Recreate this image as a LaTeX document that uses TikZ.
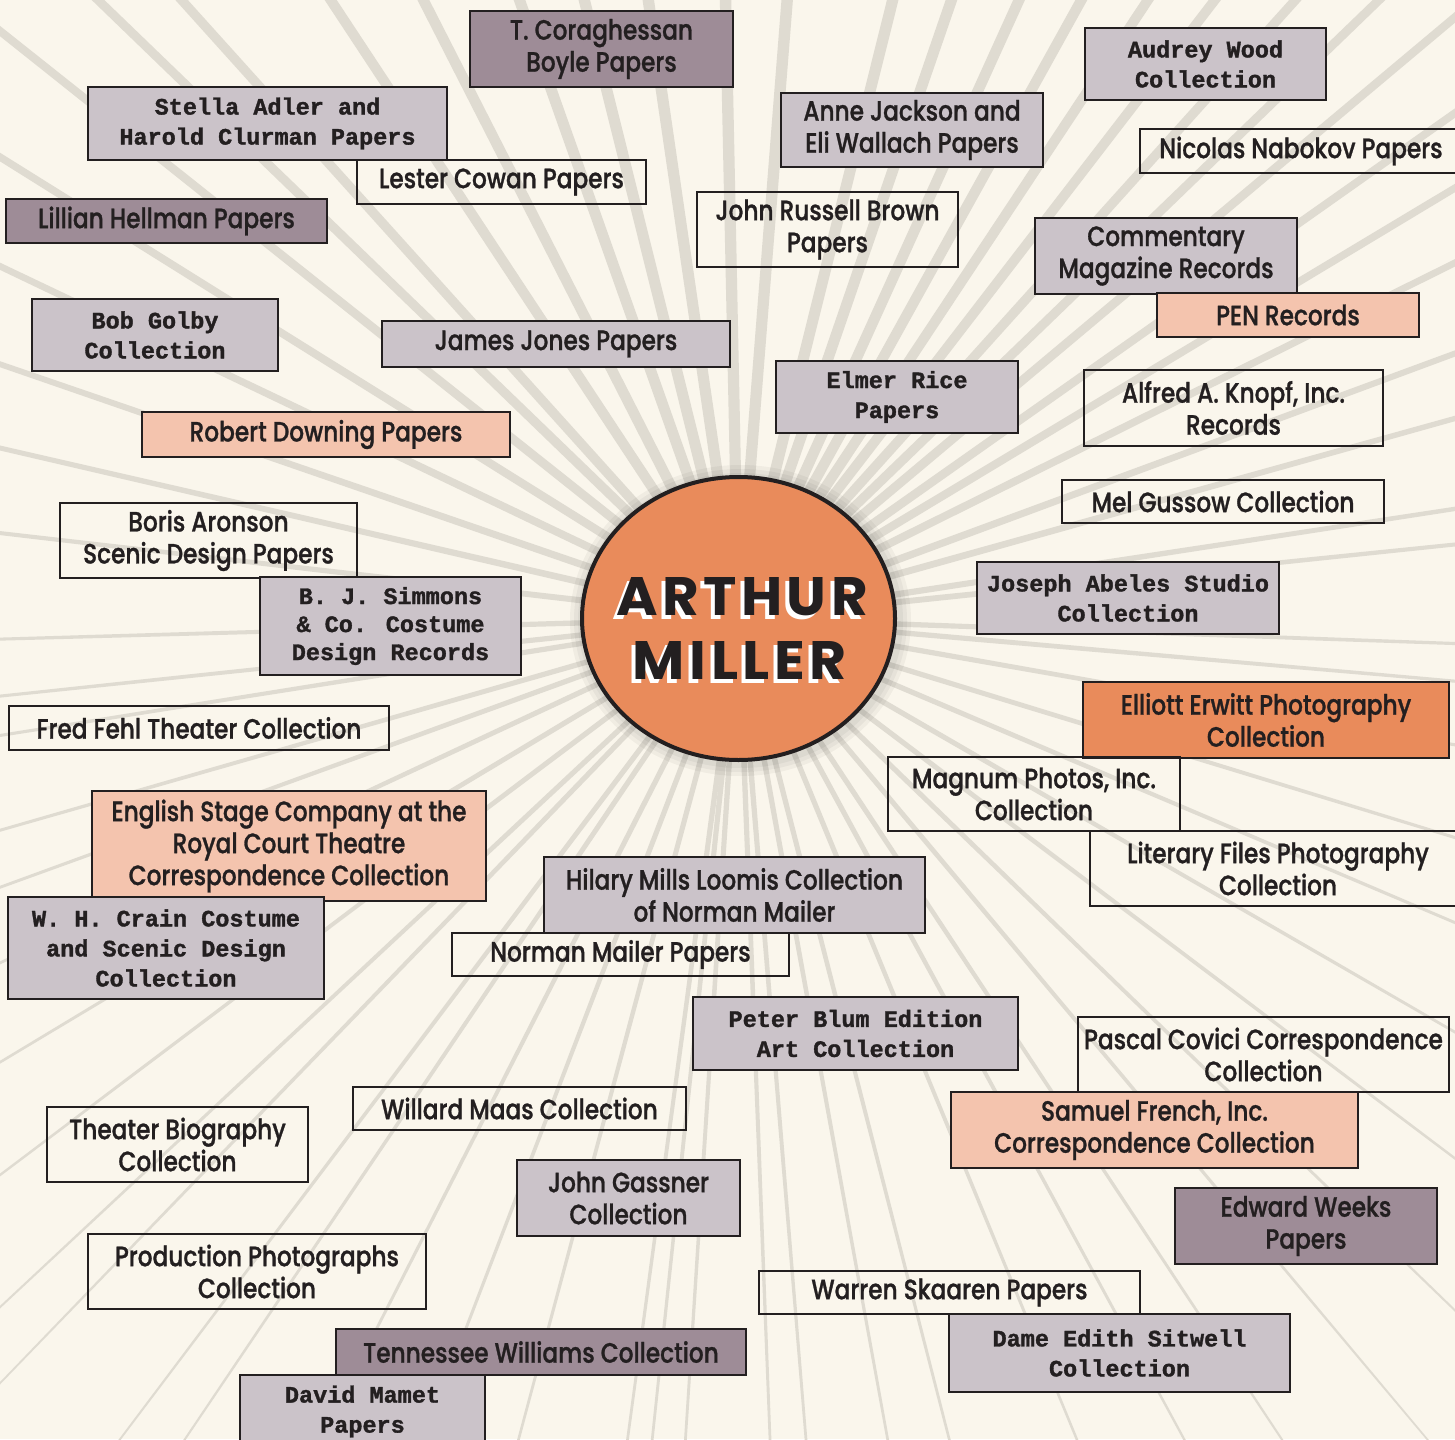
\documentclass[tikz,border=0pt]{standalone}
\usepackage{fontspec}
\usetikzlibrary{calc,shapes.geometric}
\IfFontExistsTF{Poppins Medium}{\newfontfamily\fut{Poppins Medium}[FakeStretch=0.83,FakeBold=1.0]}{\newfontfamily\fut{Poppins}[FakeStretch=0.83,FakeBold=1.8]}
\IfFontExistsTF{Poppins Bold}{\newfontfamily\arth{Poppins Bold}[LetterSpace=8]}{\newfontfamily\arth{Poppins}[LetterSpace=8,FakeBold=2]}
\newfontfamily\tw{Liberation Mono}[BoldFeatures={FakeBold=1.4}]
\definecolor{bgc}{HTML}{FAF6EC}
\definecolor{rayc}{HTML}{DFDBD1}
\definecolor{inkc}{HTML}{231F20}
\definecolor{greyc}{HTML}{CBC3C9}
\definecolor{mauvec}{HTML}{9E8C97}
\definecolor{peachc}{HTML}{F4C4AE}
\definecolor{orangec}{HTML}{E98B5B}
\tikzset{
 bx/.style={draw=inkc, line width=1.25pt, inner sep=0pt, align=center, text=inkc, font=\fut\fontsize{14}{16}\selectfont},
 wbx/.style={bx},
 gbx/.style={bx, fill=greyc},
 mbx/.style={bx, fill=mauvec},
 pbx/.style={bx, fill=peachc},
 obx/.style={bx, fill=orangec},
 twf/.style={font=\tw\bfseries\fontsize{11.75}{15}\selectfont},
 twg/.style={font=\tw\bfseries\fontsize{11.75}{14}\selectfont},
 title/.style={inner sep=0pt, text=inkc},
}
\newcommand\mkbox[7]{%
  \pgfmathsetmacro\bxw{(#5-#3)/2}%
  \pgfmathsetmacro\bxh{(#6-#4)/2}%
  \pgfmathsetmacro\bxx{(#3+#5)/2}%
  \pgfmathsetmacro\bxy{(#4+#6)/2}%
  \node[#1, minimum width=\bxw pt, minimum height=\bxh pt] (#2) at (\bxx,\bxy) {#7};}
\newcommand\shadowword[3]{%
  \rlap{\kern-2pt\raisebox{-2pt}[0pt][0pt]{\textcolor{white}{\resizebox{#1}{19pt}{\arth #3}}}}%
  \resizebox{#1}{19pt}{\arth #2}}
\begin{document}
\begin{tikzpicture}[x=0.5pt,y=-0.5pt]
\useasboundingbox (0,0) rectangle (1455,1439);
\clip (0,0) rectangle (1455,1439);
\fill[bgc] (0,0) rectangle (1455,1439);
\coordinate (C) at (738.5,618.5);
% sunburst
\foreach \a in {2,5,10,17,23,30,37,44,50,56.5,61.5,67.6,75.6,79.7,85.3,87.8,93.7,96,97.7,105,111,117,124,127,134,137,143,149,155,160,164,171,174,178.4,186.6,193,199,205.5,212,218.5,224,228,236.6,243,250.5,256,261.7,268.8,274.5,284,289,294.4,299,303.5,307.6,312,316,320,324.8,329,333.6,339.7,344.4,351.3,354.1}{
  \pgfmathsetmacro\u{max(0,-sin(\a))}
  \pgfmathsetmacro\wa{3+2.5*\u}
  \pgfmathsetmacro\wb{0.2+5.8*\u}
  \fill[rayc] ($(C)+(\a+90:\wa)$) -- ($(C)+(\a:1400)+(\a+90:\wb)$) -- ($(C)+(\a:1400)+(\a-90:\wb)$) -- ($(C)+(\a-90:\wa)$) -- cycle;
}
% circle shadow and circle
\foreach \r in {14,10,6}{
  \fill[black,opacity=0.04] ($(C)+(2,2)$) ellipse [x radius=156.5+\r, y radius=141.5+\r];
}
\node[ellipse, draw=inkc, line width=2pt, fill=orangec, minimum width=156.5pt, minimum height=141.5pt, inner sep=0pt] (am) at (C) {};
\node[title] (arthur) at (742,597) {\shadowword{126pt}{ARTHUR}{ARTHUR}};
\node[title] (miller) at (740,660) {\shadowword{107pt}{MILLER}{MILLER}};
% boxes
\mkbox{mbx}{boyle}{470}{11}{733}{87}{T. Coraghessan\\Boyle Papers}
\mkbox{gbx,twf}{stella}{88}{87}{447}{160}{Stella Adler and\\Harold Clurman Papers}
\mkbox{wbx}{cowan}{357}{160}{646}{204}{Lester Cowan Papers}
\mkbox{mbx}{hellman}{6}{199}{327}{243}{Lillian Hellman Papers}
\mkbox{gbx}{jackson}{781}{93}{1043}{167}{Anne Jackson and\\Eli Wallach Papers}
\mkbox{gbx,twf}{wood}{1085}{28}{1326}{100}{Audrey Wood\\Collection}
\mkbox{wbx}{nabokov}{1140}{129}{1462}{173}{Nicolas Nabokov Papers}
\mkbox{wbx}{brown}{697}{192}{958}{267}{John Russell Brown\\Papers}
\mkbox{gbx}{commentary}{1035}{218}{1297}{294}{Commentary\\Magazine Records}
\mkbox{pbx}{pen}{1157}{293}{1419}{337}{PEN Records}
\mkbox{gbx,twf}{golby}{32}{299}{278}{371}{Bob Golby\\Collection}
\mkbox{gbx}{jones}{382}{321}{730}{367}{James Jones Papers}
\mkbox{gbx,twf}{rice}{776}{361}{1018}{433}{Elmer Rice\\Papers}
\mkbox{wbx}{knopf}{1084}{370}{1383}{446}{Alfred A. Knopf, Inc.\\Records}
\mkbox{pbx}{downing}{142}{412}{510}{457}{Robert Downing Papers}
\mkbox{wbx}{gussow}{1062}{480}{1384}{523}{Mel Gussow Collection}
\mkbox{wbx}{aronson}{60}{503}{357}{578}{Boris Aronson\\Scenic Design Papers}
\mkbox{gbx,twg}{simmons}{260}{577}{521}{675}{B. J. Simmons\\\& Co. Costume\\Design Records}
\mkbox{gbx,twf}{abeles}{977}{562}{1279}{634}{Joseph Abeles Studio\\Collection}
\mkbox{wbx}{fehl}{9}{706}{389}{750}{Fred Fehl Theater Collection}
\mkbox{obx}{erwitt}{1083}{682}{1449}{758}{Elliott Erwitt Photography\\Collection}
\mkbox{wbx}{magnum}{888}{757}{1180}{831}{Magnum Photos, Inc.\\Collection}
\mkbox{wbx}{literary}{1090}{831}{1466}{906}{Literary Files Photography\\Collection}
\mkbox{pbx}{english}{92}{791}{486}{901}{English Stage Company at the\\Royal Court Theatre\\Correspondence Collection}
\mkbox{gbx,twf}{crain}{8}{897}{324}{999}{W. H. Crain Costume\\and Scenic Design\\Collection}
\mkbox{gbx}{loomis}{544}{857}{925}{933}{Hilary Mills Loomis Collection\\of Norman Mailer}
\mkbox{wbx}{mailer}{452}{933}{789}{976}{Norman Mailer Papers}
\mkbox{gbx,twf}{blum}{693}{997}{1018}{1070}{Peter Blum Edition\\Art Collection}
\mkbox{wbx}{covici}{1078}{1017}{1449}{1092}{Pascal Covici Correspondence\\Collection}
\mkbox{pbx}{french}{951}{1092}{1358}{1168}{Samuel French, Inc.\\Correspondence Collection}
\mkbox{wbx}{maas}{353}{1087}{686}{1130}{Willard Maas Collection}
\mkbox{wbx}{biography}{47}{1107}{308}{1182}{Theater Biography\\Collection}
\mkbox{gbx}{gassner}{517}{1160}{740}{1236}{John Gassner\\Collection}
\mkbox{mbx}{weeks}{1175}{1188}{1437}{1264}{Edward Weeks\\Papers}
\mkbox{wbx}{production}{88}{1234}{426}{1309}{Production Photographs\\Collection}
\mkbox{wbx}{skaaren}{759}{1271}{1140}{1314}{Warren Skaaren Papers}
\mkbox{gbx,twf}{sitwell}{949}{1314}{1290}{1392}{Dame Edith Sitwell\\Collection}
\mkbox{mbx}{williams}{336}{1329}{746}{1375}{Tennessee Williams Collection}
\mkbox{gbx,twf}{mamet}{240}{1375}{485}{1448}{David Mamet\\Papers}
\end{tikzpicture}
\end{document}
